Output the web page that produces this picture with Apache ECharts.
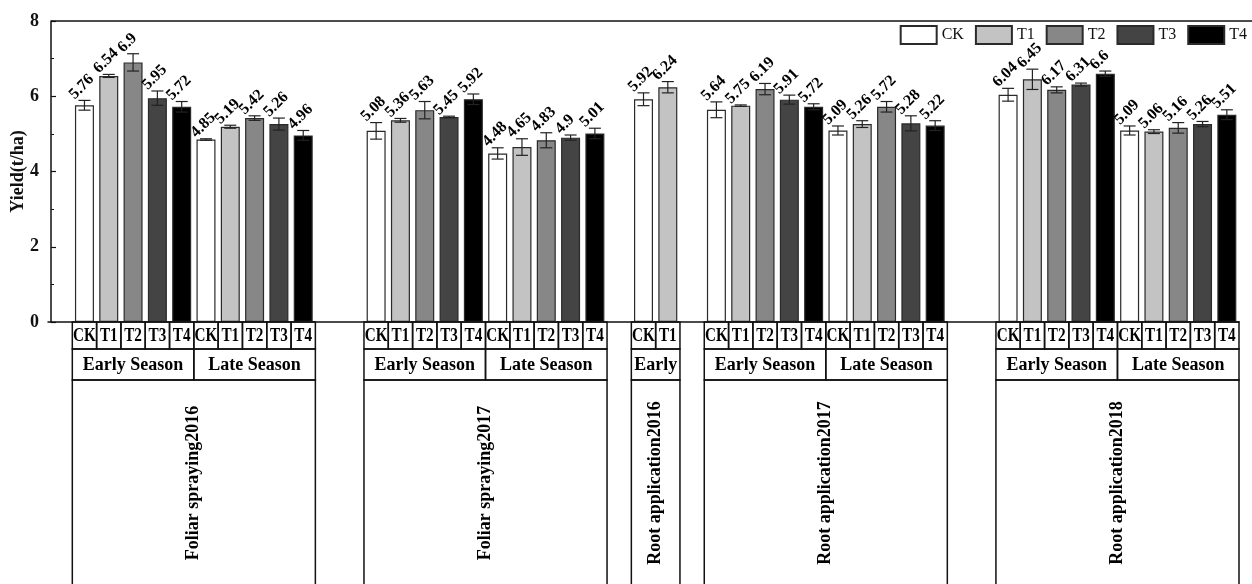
<!DOCTYPE html>
<html><head><meta charset="utf-8">
<script src="https://cdn.jsdelivr.net/npm/echarts@6/dist/echarts.min.js"></script>
<style>html,body{margin:0;padding:0;background:#fff}#c{width:1252px;height:584px}</style>
</head><body><div id="c"></div>
<script>
// ---- data ----
const treatments = ['CK', 'T1', 'T2', 'T3', 'T4'];
const groupNames = ['Foliar spraying2016', 'Foliar spraying2017', 'Root application2016', 'Root application2017', 'Root application2018'];
const seasonNames = [['Early Season', 'Late Season'], ['Early Season', 'Late Season'], ['Early'], ['Early Season', 'Late Season'], ['Early Season', 'Late Season']];
const earlyYield = [[5.76, 6.54, 6.9, 5.95, 5.72], [5.08, 5.36, 5.63, 5.45, 5.92], [5.92, 6.24], [5.64, 5.75, 6.19, 5.91, 5.72], [6.04, 6.45, 6.17, 6.31, 6.6]];
const lateYield = [[4.85, 5.19, 5.42, 5.26, 4.96], [4.48, 4.65, 4.83, 4.9, 5.01], [], [5.09, 5.26, 5.72, 5.28, 5.22], [5.09, 5.06, 5.16, 5.26, 5.51]];
const earlySE = [[0.13, 0.04, 0.23, 0.19, 0.14], [0.22, 0.05, 0.23, 0.02, 0.14], [0.17, 0.15], [0.21, 0.02, 0.15, 0.12, 0.08], [0.17, 0.27, 0.08, 0.04, 0.07]];
const lateSE = [[0.02, 0.04, 0.06, 0.16, 0.13], [0.15, 0.22, 0.2, 0.07, 0.14], [], [0.12, 0.09, 0.14, 0.2, 0.13], [0.12, 0.05, 0.14, 0.07, 0.13]];
const yTicks = [0, 2, 4, 6, 8];

// ---- style / layout ----
const barColors = ['#ffffff', '#c3c3c3', '#878787', '#444444', '#000000'];
const gapSlots = [1, 2, 1, 1, 2];
const serif = '"Liberation Serif", "Times New Roman", serif';

// build slots (categories) and table cells
const slots = [];
const cells = [];
groupNames.forEach((g, gi) => {
  for (let k = 0; k < gapSlots[gi]; k++) slots.push(null);
  const gStart = slots.length;
  const vals = [earlyYield[gi], lateYield[gi]];
  const errs = [earlySE[gi], lateSE[gi]];
  seasonNames[gi].forEach((sn, si) => {
    const sStart = slots.length;
    vals[si].forEach((v, ti) => {
      const idx = slots.length;
      slots.push({ t: ti, v: v, e: errs[si][ti] });
      cells.push({ s: idx, e: idx, row: 0, text: treatments[ti] });
    });
    cells.push({ s: sStart, e: slots.length - 1, row: 1, text: sn });
  });
  cells.push({ s: gStart, e: slots.length - 1, row: 2, text: g });
});
const categories = slots.map((s, i) => (s ? treatments[s.t] : '') + '#' + i);

const barSeries = treatments.map((t, ti) => ({
  name: t,
  type: 'bar',
  barWidth: 19,
  barGap: '-100%',
  z: 2,
  itemStyle: { color: barColors[ti], borderColor: '#2a2a2a', borderWidth: 1.2 },
  data: slots.map(s => (s && s.t === ti ? s.v : '-'))
}));

const errData = [];
slots.forEach((s, i) => { if (s) errData.push([i, s.v, s.e]); });

const rowTop = [0, 27, 58];
const rowBottom = [27, 58, 320];

const option = {
  animation: false,
  backgroundColor: '#fff',
  grid: { left: 48, right: 13, top: 21, bottom: 262, containLabel: false, outerBoundsMode: 'none' },
  legend: {
    data: treatments,
    right: 5, top: 25, padding: 0,
    itemWidth: 36, itemHeight: 18, itemGap: 11,
    icon: 'rect',
    textStyle: { fontFamily: serif, fontSize: 16, color: '#111' }
  },
  xAxis: {
    type: 'category',
    data: categories,
    boundaryGap: true,
    axisLine: { lineStyle: { color: '#111', width: 1.5 } },
    axisTick: { show: false },
    axisLabel: { show: false },
    splitLine: { show: false }
  },
  yAxis: {
    type: 'value',
    min: yTicks[0], max: yTicks[yTicks.length - 1], interval: yTicks[1] - yTicks[0],
    offset: -3,
    name: 'Yield(t/ha)',
    nameLocation: 'middle',
    nameGap: 24,
    nameMoveOverlap: false,
    nameTextStyle: { fontFamily: serif, fontWeight: 'bold', fontSize: 18, color: '#111' },
    axisLine: { show: true, lineStyle: { color: '#111', width: 1.5 } },
    axisTick: { show: true, inside: true, length: 5, lineStyle: { color: '#111', width: 1.2 } },
    minorTick: { show: true, splitNumber: 2, length: 3, lineStyle: { color: '#111', width: 1 } },
    axisLabel: { fontFamily: serif, fontWeight: 'bold', fontSize: 18, color: '#111', margin: 12 },
    splitLine: { show: false }
  },
  graphic: [{
    type: 'line', shape: { x1: 51, y1: 21, x2: 1252, y2: 21 },
    style: { stroke: '#111', lineWidth: 1.5 }, z: 10
  }],
  series: barSeries.concat([
    {
      type: 'custom',
      name: 'err',
      z: 5,
      clip: false,
      silent: true,
      encode: { x: 0, y: 1 },
      data: errData,
      renderItem: function (params, api) {
        const x = api.value(0), v = api.value(1), e = api.value(2);
        const top = api.coord([x, v + e]);
        const bot = api.coord([x, v - e]);
        const cx = top[0], cw = 6;
        const st = { stroke: '#222', lineWidth: 1.2 };
        return {
          type: 'group', children: [
            { type: 'line', shape: { x1: cx, y1: top[1], x2: cx, y2: bot[1] }, style: st },
            { type: 'line', shape: { x1: cx - cw, y1: top[1], x2: cx + cw, y2: top[1] }, style: st },
            { type: 'line', shape: { x1: cx - cw, y1: bot[1], x2: cx + cw, y2: bot[1] }, style: st },
            {
              type: 'text', x: cx - 7, y: top[1] + 2, rotation: Math.PI / 4,
              style: { text: String(v), font: 'bold 16px ' + serif, fill: '#000', align: 'left', verticalAlign: 'bottom' }
            }
          ]
        };
      }
    },
    {
      type: 'custom',
      name: 'table',
      z: 6,
      clip: false,
      silent: true,
      encode: { x: 0, y: 2 },
      data: cells.map(c => [c.s, c.e, c.row]),
      renderItem: function (params, api) {
        const c = cells[params.dataIndex];
        const bw = api.size([1, 0])[0];
        const p0 = api.coord([c.s, 0]);
        const p1 = api.coord([c.e, 0]);
        const xs = p0[0] - bw / 2, xe = p1[0] + bw / 2;
        const y0 = p0[1];
        const yt = y0 + rowTop[c.row], yb = y0 + rowBottom[c.row];
        const rect = {
          type: 'rect', shape: { x: xs, y: yt, width: xe - xs, height: yb - yt },
          style: { fill: 'none', stroke: '#111', lineWidth: 1.5 }
        };
        let txt;
        if (c.row === 0) {
          txt = { type: 'text', x: (xs + xe) / 2, y: (yt + yb) / 2 + 1, scaleX: 0.8,
            style: { text: c.text, font: 'bold 19px ' + serif, fill: '#000', align: 'center', verticalAlign: 'middle' } };
        } else if (c.row === 1) {
          txt = { type: 'text', x: (xs + xe) / 2, y: (yt + yb) / 2 + 1,
            style: { text: c.text, font: 'bold 18px ' + serif, fill: '#000', align: 'center', verticalAlign: 'middle' } };
        } else {
          txt = { type: 'text', x: (xs + xe) / 2, y: y0 + 161, rotation: Math.PI / 2,
            style: { text: c.text, font: 'bold 18px ' + serif, fill: '#000', align: 'center', verticalAlign: 'middle' } };
        }
        return { type: 'group', children: [rect, txt] };
      }
    }
  ])
};

const chart = echarts.init(document.getElementById('c'), null, { renderer: 'canvas' });
chart.setOption(option);
</script>
</body></html>
